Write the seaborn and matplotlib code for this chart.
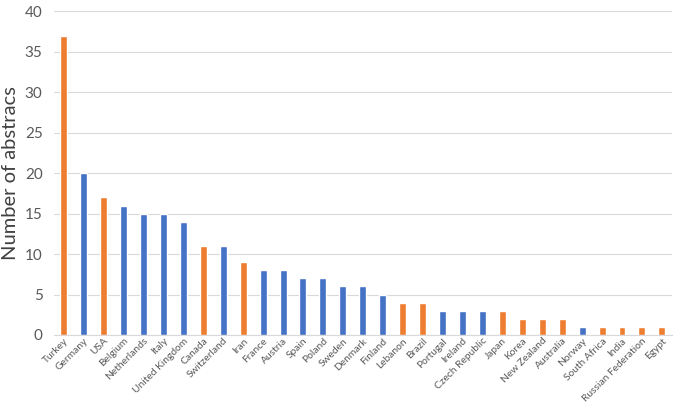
import matplotlib
matplotlib.use('Agg')
import matplotlib.pyplot as plt
import seaborn as sns
import pandas as pd

# Data
countries = ['Turkey', 'Germany', 'USA', 'Belgium', 'Netherlands', 'Italy',
             'United Kingdom', 'Canada', 'Switzerland', 'Iran', 'France',
             'Austria', 'Spain', 'Poland', 'Sweden', 'Denmark', 'Finland',
             'Lebanon', 'Brazil', 'Portugal', 'Ireland', 'Czech Republic',
             'Japan', 'Korea', 'New Zealand', 'Australia', 'Norway',
             'South Africa', 'India', 'Russian Federation', 'Egypt']
abstracts = [37, 20, 17, 16, 15, 15, 14, 11, 11, 9, 8, 8, 7, 7, 6, 6, 5,
             4, 4, 3, 3, 3, 3, 2, 2, 2, 1, 1, 1, 1, 1]
group = ['o', 'b', 'o', 'b', 'b', 'b', 'b', 'o', 'b', 'o', 'b', 'b', 'b', 'b',
         'b', 'b', 'b', 'o', 'o', 'b', 'b', 'b', 'o', 'o', 'o', 'o', 'b',
         'o', 'o', 'o', 'o']

df = pd.DataFrame({'country': countries, 'n': abstracts, 'group': group})

sns.set_style('white')
plt.rcParams['font.family'] = ['Lato', 'DejaVu Sans']

fig = plt.figure(figsize=(6.8, 4.08), dpi=100)
ax = fig.add_axes([0.079, 0.179, 0.909, 0.793])

sns.barplot(data=df, x='country', y='n', hue='group',
            palette={'b': '#4472C4', 'o': '#ED7D31'}, saturation=1,
            width=0.35, dodge=False, legend=False, ax=ax, zorder=3)

ax.set_xlim(-0.5, len(countries) - 0.5)
ax.set_ylim(0, 40)
ax.set_yticks(range(0, 41, 5))
ax.yaxis.grid(True, color='#D9D9D9', linewidth=0.8, zorder=0)
ax.set_axisbelow(True)
for side in ['top', 'right', 'left']:
    ax.spines[side].set_visible(False)
ax.spines['bottom'].set_color('#D9D9D9')

ax.set_xlabel('')
ax.set_ylabel('Number of abstracs', fontsize=14.5, color='#404040')
ax.tick_params(axis='y', labelsize=11, labelcolor='#595959', length=0, pad=8)
ax.tick_params(axis='x', labelsize=7.4, labelcolor='#595959', length=0, pad=1)
plt.setp(ax.get_xticklabels(), rotation=45, ha='right', rotation_mode='anchor')

fig.savefig('out.png', dpi=100)
